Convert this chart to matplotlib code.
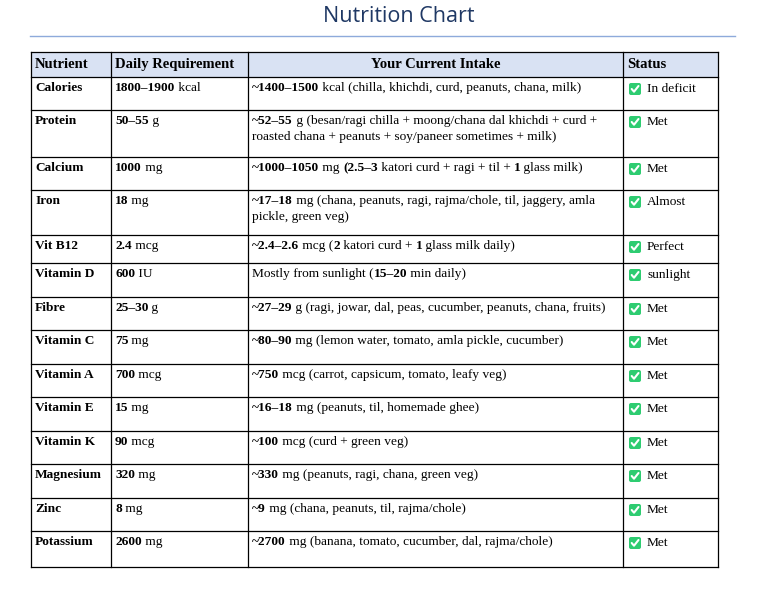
import matplotlib
matplotlib.use("Agg")
import matplotlib.pyplot as plt
from matplotlib.patches import FancyBboxPatch, Rectangle

nutrients = ["Calories", "Protein", "Calcium", "Iron", "Vit B12", "Vitamin D", "Fibre",
             "Vitamin C", "Vitamin A", "Vitamin E", "Vitamin K", "Magnesium", "Zinc", "Potassium"]
req_num = ["1800\u20131900", "50\u201355", "1000", "18", "2.4", "600", "25\u201330",
           "75", "700", "15", "90", "320", "8", "2600"]
req_unit = [" kcal", " g", " mg", " mg", " mcg", " IU", " g", " mg", " mcg", " mg", " mcg", " mg", " mg", " mg"]
# each intake: list of lines, each line list of (text, bold)
intake = [
    [[("~1400\u20131500", 1), (" kcal (chilla, khichdi, curd, peanuts, chana, milk)", 0)]],
    [[("~52\u201355", 1), (" g (besan/ragi chilla + moong/chana dal khichdi + curd +", 0)],
     [("roasted chana + peanuts + soy/paneer sometimes + milk)", 0)]],
    [[("~1000\u20131050", 1), (" mg ", 0), ("(2.5\u20133", 1), (" katori curd + ragi + til + ", 0),
      ("1", 1), (" glass milk)", 0)]],
    [[("~17\u201318", 1), (" mg (chana, peanuts, ragi, rajma/chole, til, jaggery, amla", 0)],
     [("pickle, green veg)", 0)]],
    [[("~2.4\u20132.6", 1), (" mcg (", 0), ("2", 1), (" katori curd + ", 0), ("1", 1), (" glass milk daily)", 0)]],
    [[("Mostly from sunlight (", 0), ("15\u201320", 1), (" min daily)", 0)]],
    [[("~27\u201329", 1), (" g (ragi, jowar, dal, peas, cucumber, peanuts, chana, fruits)", 0)]],
    [[("~80\u201390", 1), (" mg (lemon water, tomato, amla pickle, cucumber)", 0)]],
    [[("~750", 1), (" mcg (carrot, capsicum, tomato, leafy veg)", 0)]],
    [[("~16\u201318", 1), (" mg (peanuts, til, homemade ghee)", 0)]],
    [[("~100", 1), (" mcg (curd + green veg)", 0)]],
    [[("~330", 1), (" mg (peanuts, ragi, chana, green veg)", 0)]],
    [[("~9", 1), (" mg (chana, peanuts, til, rajma/chole)", 0)]],
    [[("~2700", 1), (" mg (banana, tomato, cucumber, dal, rajma/chole)", 0)]],
]
status = ["In deficit", "Met", "Met", "Almost", "Perfect", "sunlight", "Met",
          "Met", "Met", "Met", "Met", "Met", "Met", "Met"]
headers = ["Nutrient", "Daily Requirement", "Your Current Intake", "Status"]

col_x = [31, 111, 248, 623, 718]
row_y = [52, 77, 110, 157, 190, 235, 263, 297, 330, 364, 397, 431, 464, 498, 531, 567]

fig = plt.figure(figsize=(7.68, 5.94), dpi=100)
ax = fig.add_axes([0, 0, 1, 1])
ax.set_xlim(0, 768)
ax.set_ylim(594, 0)
ax.axis("off")
renderer = fig.canvas.get_renderer()
FONT = "Liberation Serif"
FS = 9.6

def width(txt, weight, size):
    # pad with bars so leading/trailing spaces are measured
    t1 = ax.text(0, 0, "|" + txt + "|", fontfamily=FONT, fontsize=size, fontweight=weight)
    t2 = ax.text(0, 0, "||", fontfamily=FONT, fontsize=size, fontweight=weight)
    w = t1.get_window_extent(renderer).width - t2.get_window_extent(renderer).width
    t1.remove()
    t2.remove()
    return w

def segs(x, y, parts, size=FS):
    for txt, b in parts:
        wt = "bold" if b else "normal"
        ax.text(x, y, txt, fontfamily=FONT, fontsize=size, fontweight=wt,
                va="center", ha="left", color="black")
        x += width(txt, wt, size)

ax.text(399, 16, "Nutrition Chart", ha="center", va="center", fontsize=15.5,
        fontfamily="Open Sans", color="#1F3864")
ax.plot([30, 735], [36, 36], color="#8EAADB", lw=1)

ax.add_patch(Rectangle((col_x[0], row_y[0]), col_x[-1] - col_x[0], row_y[1] - row_y[0],
                       facecolor="#D9E2F3", edgecolor="none"))
for x in col_x:
    ax.plot([x, x], [row_y[0], row_y[-1]], color="black", lw=0.9)
for y in row_y:
    ax.plot([col_x[0], col_x[-1]], [y, y], color="black", lw=0.9)

hy = (row_y[0] + row_y[1]) / 2
for i, h in enumerate(headers):
    if i == 2:
        ax.text((col_x[2] + col_x[3]) / 2, hy, h, ha="center", va="center",
                fontfamily=FONT, fontsize=10.5, fontweight="bold")
    else:
        ax.text(col_x[i] + 4, hy, h, ha="left", va="center",
                fontfamily=FONT, fontsize=10.5, fontweight="bold")

for r in range(len(nutrients)):
    y0 = row_y[r + 1] + 11
    segs(col_x[0] + 4, y0, [(nutrients[r], 1)])
    segs(col_x[1] + 4, y0, [(req_num[r], 1), (req_unit[r], 0)])
    for k, line in enumerate(intake[r]):
        segs(col_x[2] + 4, y0 + k * 16, line)
    bx, by = col_x[3] + 6, y0 + 1
    ax.add_patch(FancyBboxPatch((bx, by - 6), 12, 12, boxstyle="round,pad=0,rounding_size=2",
                                facecolor="#2ECC71", edgecolor="none"))
    ax.plot([bx + 2.7, bx + 5.0, bx + 9.5], [by, by + 2.7, by - 3], color="white", lw=1.5,
            solid_capstyle="round")
    segs(bx + 18, y0 + 1, [(status[r], 0)])

fig.savefig("out.png", dpi=100)
